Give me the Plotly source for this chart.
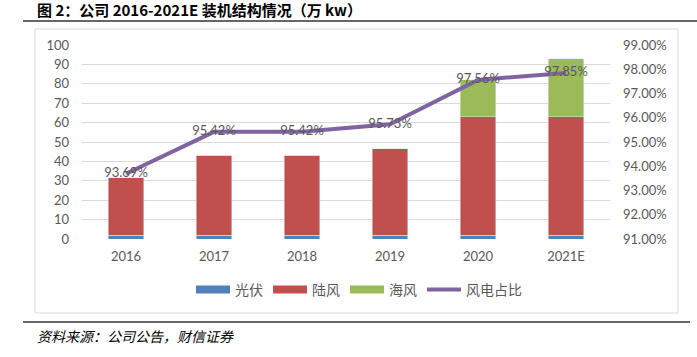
import plotly.graph_objects as go

years = ["2016", "2017", "2018", "2019", "2020", "2021E"]
solar = [2.0, 2.0, 2.0, 2.0, 2.0, 2.0]
onshore = [29.5, 41.3, 41.3, 44.4, 61.0, 61.0]
offshore = [0, 0, 0, 0, 19.0, 30.0]
wind_share = [93.69, 95.42, 95.42, 95.73, 97.56, 97.85]
left_ticks = list(range(0, 101, 10))
right_ticks = [91, 92, 93, 94, 95, 96, 97, 98, 99]

W, H = 697, 357
L, R, T, B = 82, 87, 45, 118
PW, PH = W - L - R, H - T - B


def px(x):
    return (x - L) / PW


def py(y):
    return (H - B - y) / PH


tick_font = dict(family="Lato, 'Noto Sans CJK SC', sans-serif", size=13, color="#595959")
colors = {"光伏": "#4F81BD", "陆风": "#C0504D", "海风": "#9BBB59"}

fig = go.Figure()
for name, vals in (("光伏", solar), ("陆风", onshore), ("海风", offshore)):
    fig.add_bar(x=years, y=vals, name=name, marker=dict(color=colors[name]),
                showlegend=False, legendgroup=name)
for name in ("光伏", "陆风", "海风"):
    fig.add_scatter(x=[None], y=[None], name=name, mode="lines", legendgroup=name,
                    line=dict(color=colors[name], width=8))
fig.add_scatter(
    x=years, y=wind_share, name="风电占比", yaxis="y2", mode="lines+text",
    line=dict(color="#8064A2", width=4),
    text=[f"{v:.2f}%" for v in wind_share], textposition="middle center",
    textfont=dict(family="Lato, sans-serif", size=13, color="#595959"),
)

shapes = [
    dict(type="rect", xref="paper", yref="paper", x0=px(35), x1=px(678), y0=py(313), y1=py(29),
         line=dict(color="#d9d9d9", width=1), layer="below"),
    dict(type="line", xref="paper", yref="paper", x0=px(23), x1=px(697), y0=py(21), y1=py(21),
         line=dict(color="#333333", width=1.5)),
    dict(type="line", xref="paper", yref="paper", x0=px(23), x1=px(690), y0=py(322), y1=py(322),
         line=dict(color="#333333", width=1.5)),
]

annotations = [
    dict(text="<b>图 2：公司 2016-2021E 装机结构情况（万 kw）</b>", xref="paper", yref="paper",
         x=px(35), y=py(9), xanchor="left", yanchor="middle", showarrow=False,
         font=dict(family="'Noto Sans CJK SC', serif", size=15, color="#000000")),
    dict(text="<i>资料来源：公司公告，财信证券</i>", xref="paper", yref="paper",
         x=px(35), y=py(336), xanchor="left", yanchor="middle", showarrow=False,
         font=dict(family="'Noto Sans CJK SC', sans-serif", size=14, color="#000000")),
]

fig.update_layout(
    width=W, height=H, margin=dict(l=L, r=R, t=T, b=B, autoexpand=False),
    paper_bgcolor="white", plot_bgcolor="white",
    barmode="stack", bargap=0.6,
    showlegend=True,
    legend=dict(orientation="h", x=px(359), y=py(290), xanchor="center", yanchor="middle",
                font=dict(family="'Noto Sans CJK SC', sans-serif", size=14, color="#595959"),
                itemwidth=34, traceorder="normal", tracegroupgap=0),
    xaxis=dict(type="category", showgrid=False, showline=False, ticks="", tickfont=tick_font,
               ticklabelstandoff=8),
    yaxis=dict(range=[0, 100], tickvals=left_ticks, showgrid=True, gridcolor="#d9d9d9", gridwidth=1,
               zeroline=False, showline=False, ticks="", tickfont=tick_font, ticklabelstandoff=12),
    yaxis2=dict(range=[91, 99], tickvals=right_ticks, ticktext=[f"{v:.2f}%" for v in right_ticks],
                overlaying="y", side="right", showgrid=False, zeroline=False, showline=False,
                ticks="", tickfont=tick_font, ticklabelstandoff=12),
    shapes=shapes, annotations=annotations,
)

# remove the browser's default 8px body margin so the figure sits at the page origin
fig.write_html("out.html", config={"displayModeBar": False},
               post_script="document.body.style.margin='0';")
